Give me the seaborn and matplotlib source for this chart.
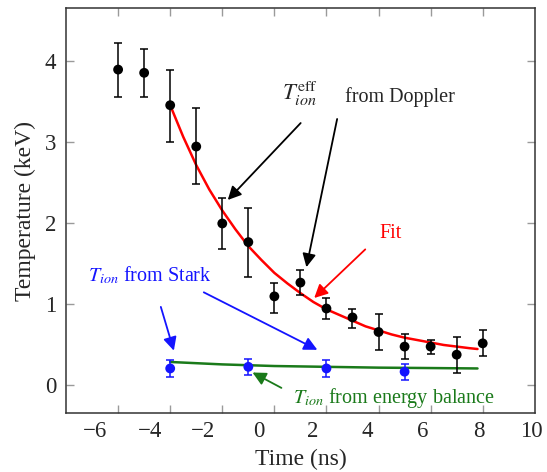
import matplotlib
matplotlib.use("Agg")
import matplotlib.pyplot as plt
import seaborn as sns
import pandas as pd

# ── Data ──────────────────────────────────────────────────────────────────────
doppler_t   = [-6, -5, -4, -3, -2, -1, 0, 1, 2, 3, 4, 5, 6, 7, 8]
doppler_T   = [3.89, 3.85, 3.45, 2.94, 1.99, 1.76, 1.09, 1.26, 0.94, 0.83, 0.65, 0.47, 0.47, 0.37, 0.51]
doppler_lo  = [3.55, 3.55, 2.99, 2.48, 1.68, 1.33, 0.89, 1.11, 0.81, 0.70, 0.43, 0.32, 0.38, 0.15, 0.35]
doppler_hi  = [4.22, 4.15, 3.89, 3.41, 2.30, 2.18, 1.26, 1.41, 1.07, 0.94, 0.87, 0.62, 0.55, 0.59, 0.67]

stark_t     = [-4, -1, 2, 5]
stark_T     = [0.20, 0.22, 0.20, 0.16]
stark_lo    = [0.10, 0.12, 0.10, 0.06]
stark_hi    = [0.30, 0.32, 0.30, 0.26]

fit_t       = [-4, -3.5, -3, -2.5, -2, -1.5, -1, -0.5, 0, 0.5, 1, 1.5, 2, 2.5, 3, 3.5, 4, 4.5, 5, 5.5, 6, 6.5, 7, 7.5, 7.8]
fit_T       = [3.45, 3.06, 2.71, 2.41, 2.15, 1.92, 1.71, 1.54, 1.38, 1.25, 1.13, 1.02, 0.93, 0.86, 0.79, 0.72,
               0.67, 0.62, 0.58, 0.55, 0.52, 0.49, 0.47, 0.45, 0.44]

balance_t   = [-4, -2, -1, 0, 2, 4, 6, 7.8]
balance_T   = [0.28, 0.25, 0.24, 0.23, 0.22, 0.21, 0.205, 0.20]

xtick_major = [-6, -4, -2, 0, 2, 4, 6, 8]
# the tick labels in the source figure sit slightly off their tick marks
xlabel_pos  = [-6.88, -4.78, -2.75, -0.61, 1.46, 3.56, 5.70, 7.85, 9.87]
xlabel_txt  = ["−6", "−4", "−2", "0", "2", "4", "6", "8", "10"]
yticks      = [0, 1, 2, 3, 4]

RED, BLUE, GREEN = "#ff0000", "#1414ff", "#1a7a1a"

# ── Style ─────────────────────────────────────────────────────────────────────
sns.set_theme(style="ticks")
plt.rcParams["font.family"] = ["Liberation Serif", "DejaVu Serif"]
plt.rcParams["mathtext.fontset"] = "stix"

fig = plt.figure(figsize=(5.47, 4.72), dpi=100)
ax = fig.add_axes([0.1207, 0.125, 0.857, 0.858])

fit_df = pd.DataFrame({"t": fit_t, "T": fit_T})
bal_df = pd.DataFrame({"t": balance_t, "T": balance_T})
sns.lineplot(data=fit_df, x="t", y="T", color=RED, lw=1.8, ax=ax, zorder=2)
sns.lineplot(data=bal_df, x="t", y="T", color=GREEN, lw=1.8, ax=ax, zorder=2)

dop = pd.DataFrame({"t": doppler_t, "T": doppler_T, "lo": doppler_lo, "hi": doppler_hi})
stk = pd.DataFrame({"t": stark_t, "T": stark_T, "lo": stark_lo, "hi": stark_hi})

ax.errorbar(dop["t"], dop["T"], yerr=[dop["T"] - dop["lo"], dop["hi"] - dop["T"]],
            fmt="none", ecolor="black", elinewidth=1.1, capsize=3, capthick=1.1, zorder=3)
ax.errorbar(stk["t"], stk["T"], yerr=[stk["T"] - stk["lo"], stk["hi"] - stk["T"]],
            fmt="none", ecolor=BLUE, elinewidth=1.1, capsize=3, capthick=1.1, zorder=3)
sns.scatterplot(data=dop, x="t", y="T", color="black", s=50, edgecolor="none", ax=ax, zorder=4)
sns.scatterplot(data=stk, x="t", y="T", color=BLUE, s=50, edgecolor="none", ax=ax, zorder=4)

# ── Annotations ───────────────────────────────────────────────────────────────
def arrow(x0, y0, x1, y1, color):
    ax.annotate("", xy=(x1, y1), xytext=(x0, y0),
                arrowprops=dict(arrowstyle="-|>", color=color, lw=1.3,
                                mutation_scale=20, shrinkA=0, shrinkB=0))

ax.text(0.97, 3.59, r"$T_{ion}^{\mathrm{eff}}$", fontsize=16.5, ha="center", va="center")
ax.text(4.82, 3.55, "from Doppler", fontsize=14.5, ha="center", va="center")
arrow(1.01, 3.23, -1.79, 2.28, "black")
arrow(2.41, 3.28, 1.23, 1.45, "black")

ax.text(4.48, 1.87, "Fit", fontsize=14.5, color=RED, ha="center", va="center")
arrow(3.49, 1.67, 1.53, 1.07, RED)

ax.text(-4.77, 1.35, r"$T_{ion}$ from Stark", fontsize=14.5, color=BLUE, ha="center", va="center")
arrow(-4.36, 0.96, -3.86, 0.42, BLUE)
arrow(-2.71, 1.14, 1.65, 0.43, BLUE)

ax.text(4.6, -0.16, r"$T_{ion}$ from energy balance", fontsize=14.5, color=GREEN, ha="center", va="center")
arrow(0.27, -0.04, -0.84, 0.15, GREEN)

# ── Axes ──────────────────────────────────────────────────────────────────────
ax.set_xlim(-8, 10)
ax.set_ylim(-0.35, 4.65)
ax.set_xticks(xtick_major)
ax.set_xticks(xlabel_pos, labels=xlabel_txt, minor=True)
ax.set_yticks(yticks)
ax.tick_params(axis="both", which="major", direction="in", length=6, width=1,
               color="#9a9a9a", top=True, right=True, labelsize=16.5, pad=7)
ax.tick_params(axis="x", which="major", labelbottom=False)
ax.tick_params(axis="x", which="minor", length=0, labelsize=16.5, pad=6)
ax.set_xlabel("Time (ns)", fontsize=17, labelpad=5)
ax.set_ylabel("Temperature (keV)", fontsize=17, labelpad=6)
for s in ax.spines.values():
    s.set_color("#333333")
    s.set_linewidth(1.1)

fig.savefig("out.png", dpi=100)
